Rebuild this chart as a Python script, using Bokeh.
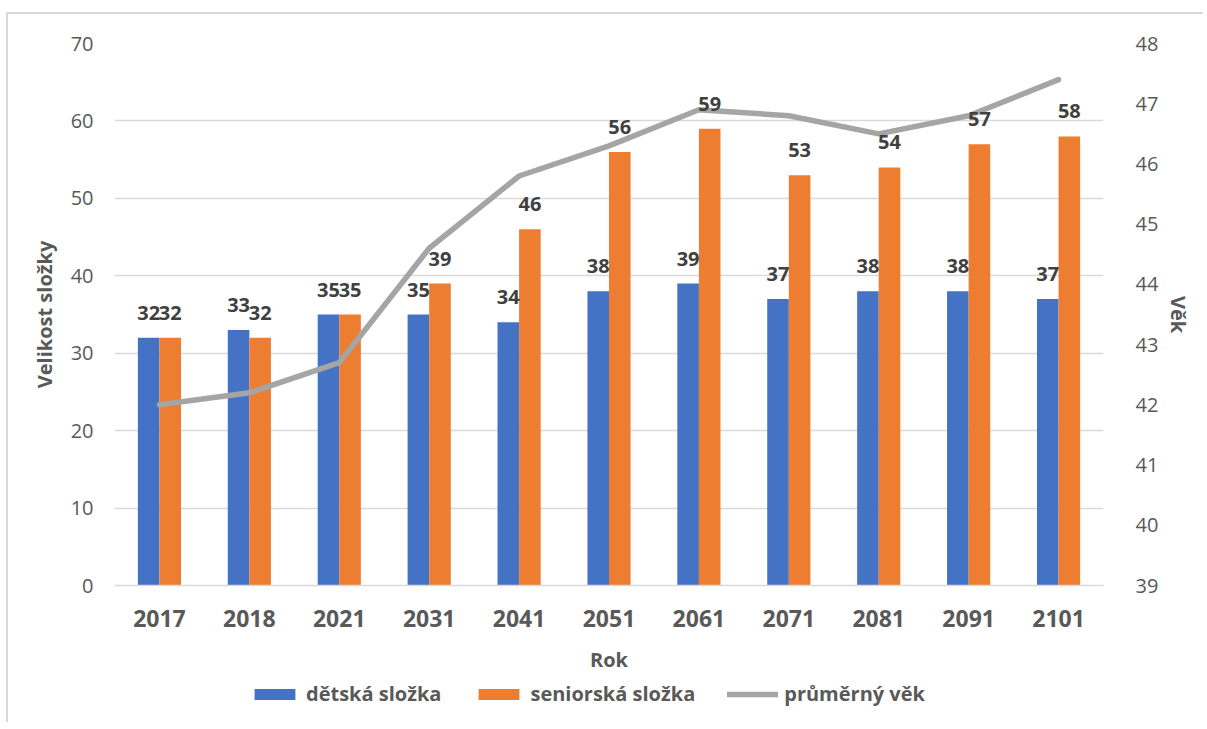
from bokeh.plotting import figure
from bokeh.layouts import column
from bokeh.models import ColumnDataSource, FactorRange, Range1d, LinearAxis, Legend, LegendItem, FixedTicker
from bokeh.transform import dodge
from bokeh.core.properties import value
from bokeh.embed import file_html
from bokeh.resources import INLINE

years = ["2017", "2018", "2021", "2031", "2041", "2051", "2061", "2071", "2081", "2091", "2101"]
detska = [32, 33, 35, 35, 34, 38, 39, 37, 38, 38, 37]
seniorska = [32, 32, 35, 39, 46, 56, 59, 53, 54, 57, 58]
prumerny_vek = [42.0, 42.2, 42.7, 44.6, 45.8, 46.3, 46.9, 46.8, 46.5, 46.8, 47.4]

left_ticks = [0, 10, 20, 30, 40, 50, 60, 70]
right_ticks = [39, 40, 41, 42, 43, 44, 45, 46, 47, 48]
series_names = ["dětská složka", "seniorská složka", "průměrný věk"]

FONT = "Open Sans"
TXT = "#595959"
BLUE = "#4472c4"
ORANGE = "#ed7d31"
GRAY = "#a5a5a5"

src = ColumnDataSource(dict(
    year=years, d=detska, s=seniorska, v=prumerny_vek,
    dl=[str(x) for x in detska], sl=[str(x) for x in seniorska],
))

p = figure(
    x_range=FactorRange(*years, range_padding=0), y_range=Range1d(0, 70),
    width=1195, height=663, output_backend="svg", toolbar_location=None,
    min_border_left=106, min_border_right=100, min_border_top=29, min_border_bottom=92,
)
p.outline_line_color = None
p.background_fill_color = "white"
p.border_fill_color = "white"

p.extra_y_ranges = {"vek": Range1d(39, 48)}

p.vbar(x=dodge("year", -0.12, range=p.x_range), top="d", width=0.24, source=src,
       fill_color=BLUE, line_color=None)
p.vbar(x=dodge("year", 0.12, range=p.x_range), top="s", width=0.24, source=src,
       fill_color=ORANGE, line_color=None)
p.line(x="year", y="v", source=src, y_range_name="vek", line_color=GRAY, line_width=5.5,
       line_cap="round", line_join="round")

for col, off in (("dl", -0.12), ("sl", 0.12)):
    p.text(x=dodge("year", off, range=p.x_range), y=col[0], text=col, source=src,
           text_font=value(FONT), text_font_style="bold", text_font_size="20px",
           text_color="#404040", text_align="center", text_baseline="alphabetic", y_offset=-25)

p.xgrid.grid_line_color = None
p.ygrid.grid_line_color = "#d9d9d9"
p.ygrid.grid_line_width = 1.5
p.ygrid.ticker = FixedTicker(ticks=left_ticks)

def style_y(a):
    a.axis_line_color = None
    a.major_tick_line_color = None
    a.minor_tick_line_color = None
    a.major_label_text_font = FONT
    a.major_label_text_font_size = "20px"
    a.major_label_text_color = TXT
    a.axis_label_text_font = FONT
    a.axis_label_text_font_size = "20px"
    a.axis_label_text_font_style = "bold"
    a.axis_label_text_color = TXT

ax = p.yaxis[0]
ax.ticker = FixedTicker(ticks=left_ticks)
ax.axis_label = "Velikost složky"
style_y(ax)
ax.major_label_standoff = 15
ax.axis_label_standoff = 10

rax = LinearAxis(y_range_name="vek", ticker=FixedTicker(ticks=right_ticks), axis_label="Věk")
style_y(rax)
rax.major_label_standoff = 26
rax.axis_label_standoff = 4
p.add_layout(rax, "right")

xa = p.xaxis[0]
xa.axis_line_color = "#d9d9d9"
xa.axis_line_width = 1.5
xa.major_tick_line_color = None
xa.minor_tick_line_color = None
xa.major_label_text_font = FONT
xa.major_label_text_font_size = "23px"
xa.major_label_text_font_style = "bold"
xa.major_label_text_color = TXT
xa.major_label_standoff = 18
xa.axis_label = "Rok"
xa.axis_label_text_font = FONT
xa.axis_label_text_font_size = "20px"
xa.axis_label_text_font_style = "bold"
xa.axis_label_text_color = TXT
xa.axis_label_standoff = 16

# legend strip below the chart: same series as legend keys, nothing visible in the strip
lg = figure(width=1195, height=45, x_range=FactorRange(*years, range_padding=0),
            y_range=Range1d(1000, 1001),
            output_backend="svg", toolbar_location=None, x_axis_type=None, y_axis_type=None,
            min_border_left=0, min_border_right=0, min_border_top=0, min_border_bottom=0)
lg.outline_line_color = None
lg.xgrid.visible = False
lg.ygrid.visible = False
lg.extra_y_ranges = {"vek": Range1d(1000, 1001)}
k1 = lg.vbar(x=dodge("year", -0.12, range=lg.x_range), top="d", width=0, source=src,
             fill_color=BLUE, line_color=None)
k2 = lg.vbar(x=dodge("year", 0.12, range=lg.x_range), top="s", width=0, source=src,
             fill_color=ORANGE, line_color=None)
k3 = lg.line(x="year", y="v", source=src, y_range_name="vek", line_color=GRAY, line_width=5.5,
             line_cap="round")

legend = Legend(items=[
    LegendItem(label=series_names[0], renderers=[k1]),
    LegendItem(label=series_names[1], renderers=[k2]),
    LegendItem(label=series_names[2], renderers=[k3]),
], orientation="horizontal", location=(135, 15))
legend.label_text_font = FONT
legend.label_text_font_size = "20px"
legend.label_text_font_style = "bold"
legend.label_text_color = TXT
legend.glyph_width = 51
legend.glyph_height = 14
legend.label_standoff = 6
legend.spacing = 32
legend.padding = 0
legend.margin = 0
legend.border_line_color = None
legend.background_fill_alpha = 0
lg.add_layout(legend, "center")

layout = column(p, lg, spacing=0)
layout.styles = {"border-left": "2px solid #d9d9d9", "border-top": "2px solid #d9d9d9",
                 "margin-top": "12px", "margin-left": "6px"}

open("out.html", "w").write(file_html(layout, INLINE))
